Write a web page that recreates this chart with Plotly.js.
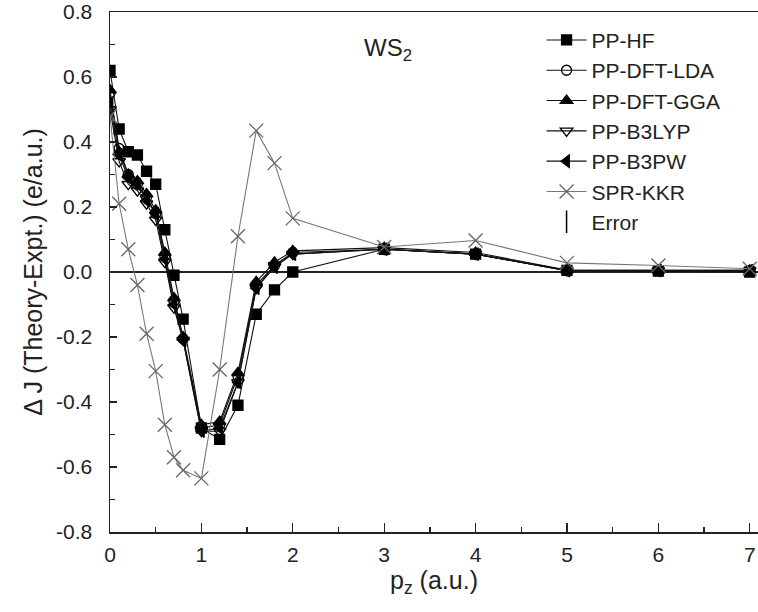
<!DOCTYPE html>
<html>
<head>
<meta charset="utf-8">
<script src="https://cdn.plot.ly/plotly-3.0.1.min.js"></script>
<style>html,body{margin:0;padding:0;background:#fff;}#chart{width:758px;height:612px;}</style>
</head>
<body>
<div id="chart"></div>
<script>
const pz = [0, 0.1, 0.2, 0.3, 0.4, 0.5, 0.6, 0.7, 0.8, 1.0, 1.2, 1.4, 1.6, 1.8, 2.0, 3, 4, 5, 6, 7];
const ppHF    = [0.62, 0.44, 0.37, 0.36, 0.31, 0.27, 0.13, -0.01, -0.145, -0.48, -0.515, -0.41, -0.13, -0.055, 0.0, 0.07, 0.055, 0.005, 0.003, 0.0];
const ppLDA   = [0.55, 0.38, 0.30, 0.27, 0.23, 0.18, 0.05, -0.09, -0.205, -0.48, -0.47, -0.32, -0.04, 0.02, 0.06, 0.07, 0.055, 0.005, 0.005, 0.005];
const ppGGA   = [0.56, 0.37, 0.30, 0.28, 0.24, 0.19, 0.06, -0.08, -0.20, -0.47, -0.46, -0.31, -0.03, 0.03, 0.065, 0.075, 0.06, 0.006, 0.005, 0.005];
const ppB3LYP = [0.50, 0.34, 0.27, 0.25, 0.21, 0.16, 0.03, -0.11, -0.21, -0.49, -0.49, -0.34, -0.05, 0.02, 0.055, 0.07, 0.055, 0.004, 0.004, 0.004];
const ppB3PW  = [0.52, 0.36, 0.29, 0.27, 0.22, 0.18, 0.04, -0.10, -0.21, -0.49, -0.48, -0.34, -0.05, 0.015, 0.055, 0.07, 0.055, 0.004, 0.004, 0.004];
const sprKKR  = [0.48, 0.21, 0.07, -0.04, -0.19, -0.305, -0.47, -0.57, -0.61, -0.635, -0.30, 0.11, 0.435, 0.335, 0.165, 0.077, 0.097, 0.028, 0.02, 0.01];
const seriesNames = ["PP-HF", "PP-DFT-LDA", "PP-DFT-GGA", "PP-B3LYP", "PP-B3PW", "SPR-KKR", "Error"];
const yTickVals = [-0.8, -0.6, -0.4, -0.2, 0, 0.2, 0.4, 0.6, 0.8];
const yTickText = ["-0.8", "-0.6", "-0.4", "-0.2", "0.0", "0.2", "0.4", "0.6", "0.8"];

const F = "Arial, 'Liberation Sans', sans-serif";
function tr(name, y, symbol, color, size, lc) {
  return {x: pz, y: y, name: name, type: 'scatter', mode: 'lines+markers',
    line: {color: lc || '#111', width: 1.1},
    marker: {symbol: symbol, size: size, color: color, line: {color: color, width: 1.3}}};
}
const data = [
  tr(seriesNames[0], ppHF, 'square', '#000', 10),
  tr(seriesNames[1], ppLDA, 'circle-open', '#000', 10),
  tr(seriesNames[2], ppGGA, 'triangle-up', '#000', 11),
  tr(seriesNames[3], ppB3LYP, 'triangle-down-open', '#000', 11),
  tr(seriesNames[4], ppB3PW, 'triangle-left', '#000', 11),
  tr(seriesNames[5], sprKKR, 'x-thin-open', '#666', 14, '#777'),
  {x: [null], y: [null], name: seriesNames[6], type: 'scatter', mode: 'markers',
   marker: {symbol: 'line-ns-open', size: 16, color: '#000', line: {color: '#000', width: 1.5}}}
];
const layout = {
  width: 758, height: 612,
  margin: {l: 110, r: 0, t: 12, b: 80},
  paper_bgcolor: '#fff', plot_bgcolor: '#fff',
  font: {family: F, color: '#222', size: 20},
  showlegend: true,
  legend: {x: 0.666, y: 0.985, xanchor: 'left', yanchor: 'top', bgcolor: 'rgba(0,0,0,0)',
    font: {family: F, size: 21, color: '#222'}, tracegroupgap: 0, itemwidth: 40},
  xaxis: {range: [0, 7.09], showgrid: false, zeroline: false, showline: true, linecolor: '#222', linewidth: 1.5,
    mirror: true, ticks: 'inside', ticklen: 9, tickwidth: 1.3, tickcolor: '#222', dtick: 1, tick0: 0,
    minor: {dtick: 0.5, ticks: 'inside', ticklen: 5, tickwidth: 1.3, tickcolor: '#222'},
    ticklabelstandoff: 3, tickfont: {size: 21},
    title: {text: 'p<sub>z</sub> (a.u.)', font: {size: 25}, standoff: 6}},
  yaxis: {range: [-0.8, 0.8], showgrid: false, zeroline: true, zerolinecolor: '#222', zerolinewidth: 1.5,
    showline: true, linecolor: '#222', linewidth: 1.5, mirror: false,
    ticks: 'inside', ticklen: 7, tickwidth: 1.3, tickcolor: '#222',
    tickmode: 'array', tickvals: yTickVals, ticktext: yTickText,
    minor: {dtick: 0.1, tick0: 0, ticks: 'inside', ticklen: 5, tickwidth: 1.3, tickcolor: '#222'},
    ticklabelstandoff: 12, tickfont: {size: 21},
    title: {text: 'Δ J (Theory-Expt.) (e/a.u.)', font: {size: 25}, standoff: 6}},
  annotations: [{text: 'WS<sub>2</sub>', xref: 'paper', yref: 'paper', x: (388 - 110) / 648, y: (532 - 50) / 520,
    xanchor: 'center', yanchor: 'middle', showarrow: false, font: {family: F, size: 24, color: '#222'}}]
};
Plotly.newPlot('chart', data, layout, {displayModeBar: false, staticPlot: true});
</script>
</body>
</html>
